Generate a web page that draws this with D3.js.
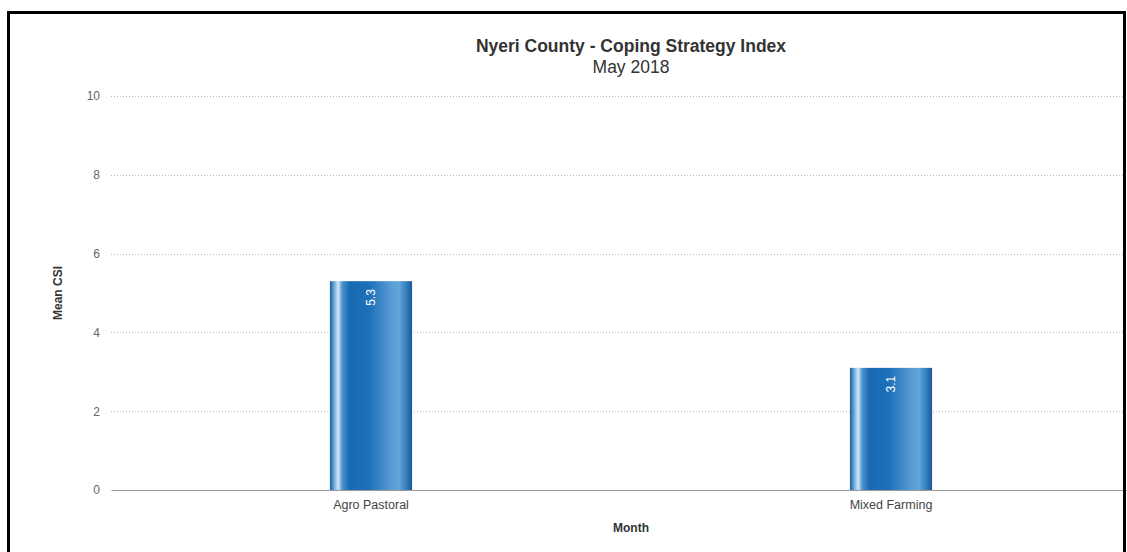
<!DOCTYPE html>
<html>
<head>
<meta charset="utf-8">
<script src="https://cdn.jsdelivr.net/npm/d3@7"></script>
<style>
  html, body { margin: 0; padding: 0; background: #fff; }
  svg { display: block; font-family: "Liberation Sans", Arial, Helvetica, sans-serif; }
</style>
</head>
<body>
<svg id="chart" width="1127" height="552"></svg>
<script>
// Livelihood zones and their mean Coping Strategy Index
const zones = ["Agro Pastoral", "Mixed Farming"];
const meanCSI = [5.3, 3.1];
const yTicks = [0, 2, 4, 6, 8, 10];

const titleText = "Nyeri County - Coping Strategy Index";
const subtitleText = "May 2018";
const xTitle = "Month";
const yTitle = "Mean CSI";

const svg = d3.select("#chart");

const plot = { left: 111, right: 1151, top: 96, bottom: 490 };

const x = d3.scaleBand()
  .domain(zones)
  .range([plot.left, plot.right])
  .paddingInner(0.842)
  .paddingOuter(0.421);

const y = d3.scaleLinear()
  .domain([0, 10])
  .range([plot.bottom, plot.top]);

// Cylinder-like horizontal shading of the bars
const defs = svg.append("defs");
const grad = defs.append("linearGradient")
  .attr("id", "barShade")
  .attr("x1", "0%").attr("x2", "100%")
  .attr("y1", "0%").attr("y2", "0%");
[
  ["0%", "#1d5c9c"],
  ["5%", "#6aa6d8"],
  ["10%", "#d4e8f7"],
  ["15%", "#4f93cf"],
  ["24%", "#1769b2"],
  ["48%", "#1e70b7"],
  ["72%", "#5298d2"],
  ["84%", "#64a6da"],
  ["93%", "#347fc0"],
  ["100%", "#1a5894"]
].forEach(([o, c]) => grad.append("stop").attr("offset", o).attr("stop-color", c));

// Gridlines (dotted) for non-zero ticks
const grid = svg.append("g");
grid.selectAll("line")
  .data(yTicks.filter(t => t !== 0))
  .join("line")
  .attr("x1", plot.left)
  .attr("x2", plot.right)
  .attr("y1", d => Math.round(y(d)) + 0.5)
  .attr("y2", d => Math.round(y(d)) + 0.5)
  .attr("stroke", "#b8b8b8")
  .attr("stroke-width", 1)
  .attr("stroke-dasharray", "1,2");

// Y axis labels
const yAxis = d3.axisLeft(y).tickValues(yTicks).tickSize(0).tickPadding(0).tickFormat(d3.format("d"));
const gy = svg.append("g")
  .attr("transform", `translate(${plot.left - 11},0)`)
  .call(yAxis);
gy.select(".domain").remove();
gy.selectAll("text")
  .attr("fill", "#666")
  .attr("font-size", 12)
  .attr("font-family", "Liberation Sans, Arial, sans-serif");

// Bars
svg.append("g").selectAll("rect")
  .data(zones)
  .join("rect")
  .attr("x", d => x(d))
  .attr("width", x.bandwidth())
  .attr("y", (d, i) => y(meanCSI[i]))
  .attr("height", (d, i) => y(0) - y(meanCSI[i]))
  .attr("fill", "url(#barShade)");

// Value labels inside bars, reading bottom-to-top
svg.append("g").selectAll("text")
  .data(zones)
  .join("text")
  .attr("transform", (d, i) => `translate(${x(d) + x.bandwidth() / 2 + 4},${y(meanCSI[i]) + 8}) rotate(-90)`)
  .attr("text-anchor", "end")
  .attr("fill", "#fff")
  .attr("font-size", 12)
  .text((d, i) => meanCSI[i].toFixed(1));

// X axis baseline and category labels
const xAxis = d3.axisBottom(x).tickSize(0).tickPadding(10);
const gx = svg.append("g")
  .attr("transform", `translate(0,${plot.bottom})`)
  .call(xAxis);
gx.select(".domain")
  .attr("stroke", "#999")
  .attr("stroke-width", 1.2);
gx.selectAll("text")
  .attr("fill", "#444")
  .attr("font-size", 12.5)
  .attr("font-family", "Liberation Sans, Arial, sans-serif");

// Axis titles
const cx = (plot.left + plot.right) / 2;
svg.append("text")
  .attr("x", cx)
  .attr("y", 532)
  .attr("text-anchor", "middle")
  .attr("font-size", 12)
  .attr("font-weight", "bold")
  .attr("fill", "#333")
  .text(xTitle);

svg.append("text")
  .attr("transform", `translate(62,${(plot.top + plot.bottom) / 2}) rotate(-90)`)
  .attr("text-anchor", "middle")
  .attr("font-size", 12)
  .attr("font-weight", "bold")
  .attr("fill", "#333")
  .text(yTitle);

// Title and subtitle
svg.append("text")
  .attr("x", cx)
  .attr("y", 52)
  .attr("text-anchor", "middle")
  .attr("font-size", 17.5)
  .attr("font-weight", "bold")
  .attr("fill", "#333")
  .text(titleText);

svg.append("text")
  .attr("x", cx)
  .attr("y", 73)
  .attr("text-anchor", "middle")
  .attr("font-size", 17.5)
  .attr("fill", "#333")
  .text(subtitleText);

// Outer frame
svg.append("rect")
  .attr("x", 8.5)
  .attr("y", 12.5)
  .attr("width", 1116)
  .attr("height", 560)
  .attr("fill", "none")
  .attr("stroke", "#000")
  .attr("stroke-width", 3);
</script>
</body>
</html>
